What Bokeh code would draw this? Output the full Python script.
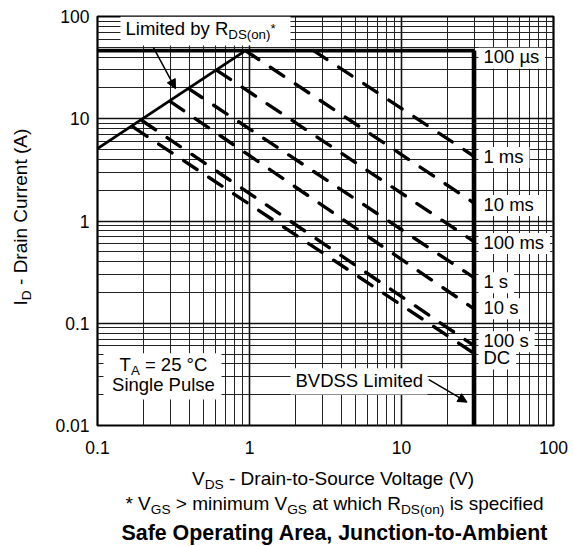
import math
from bokeh.plotting import figure
from bokeh.layouts import row, column
from bokeh.models import (Range1d, FixedTicker, CustomJSTickFormatter, Label,
                          Arrow, NormalHead, ColumnDataSource)
from bokeh.embed import file_html
from bokeh.resources import INLINE

# ---------------- data ----------------
x_ticks = [0.1, 1, 10, 100]
x_tick_labels = ["0.1", "1", "10", "100"]
y_ticks = [0.01, 0.1, 1, 10, 100]
y_tick_labels = ["0.01", "0.1", "1", "10", "100"]

rds_vds = [0.1, 0.94]          # R_DS(on) limit line
rds_id = [5.1, 46.4]
current_limit = 46.4           # A  (100 us boundary)
bvdss = 30.0                   # V

pulse_labels = ["1 ms", "10 ms", "100 ms", "1 s", "10 s", "100 s", "DC"]
pulse_v_start = [2.64, 0.94, 0.613, 0.398, 0.302, 0.197, 0.173]
pulse_i_start = [46.4, 46.4, 29.6, 19.7, 14.7, 9.56, 8.22]
pulse_i_end = [4.3, 1.5, 0.63, 0.279, 0.138, 0.0603, 0.0508]

right_labels = ["100 µs"] + pulse_labels

# ---------------- layout ----------------
FONT = "Liberation Sans"
right_label_y = [34.6, 3.70, 1.253, 0.531, 0.2204, 0.1226, 0.0582, 0.0396]
right_label_x = 34.6
PX_PER_DEC_X = 152.0
PX_PER_DEC_Y = 102.25
LEFT_W = 45
MAIN_H = 470
TOTAL_W, TOTAL_H = 573, 546
BASE_FIX = 0.36   # em; raise labels so the rendered baseline lands on the anchor

W = {' ': 278, '-': 333, '(': 333, ')': 333, '.': 278, ',': 278, '*': 389, '>': 584,
     '=': 584, '°': 400, 'µ': 556,
     'A': 667, 'B': 667, 'C': 722, 'D': 722, 'E': 667, 'G': 778, 'I': 278, 'L': 556,
     'P': 667, 'R': 722, 'S': 667, 'T': 611, 'V': 667,
     'a': 556, 'b': 556, 'c': 500, 'd': 556, 'e': 556, 'f': 278, 'g': 556, 'h': 556,
     'i': 222, 'l': 222, 'm': 833, 'n': 556, 'o': 556, 'p': 556, 'r': 333, 's': 500,
     't': 278, 'u': 556, 'w': 722, 'y': 500}


def text_width(s, size):
    return sum(W.get(c, 556) for c in s) * size / 1000.0


def label(fig, x, y, text, size, align="left", bold=False, xo=0.0, yo=0.0, angle=0.0):
    fix = BASE_FIX * size
    if angle == 0:
        yo += fix
    else:
        xo -= fix
    fig.add_layout(Label(x=x, y=y, text=text, x_offset=xo, y_offset=yo, angle=angle,
                         text_font=FONT, text_font_size=f"{size}px", text_color="black",
                         text_font_style="bold" if bold else "normal",
                         text_baseline="alphabetic", text_align=align))


def rich(fig, x, y, parts, size, align="left", angle=0.0):
    sub_size = round(size * 0.72, 1)
    sizes = [size if k == "n" else sub_size for _, k in parts]
    ws = [text_width(t, fs) for (t, _), fs in zip(parts, sizes)]
    pos = 0.0 if align == "left" else -sum(ws) / 2
    for (t, k), w, fs in zip(parts, ws, sizes):
        lead = len(t) - len(t.lstrip(" "))
        start = pos + text_width(" " * lead, fs)
        up = {"n": 0.0, "sub": -0.22 * size, "sup": 0.12 * size}[k]
        if angle == 0:
            xo, yo = start, up
        else:
            xo, yo = -up, start
        label(fig, x, y, t.strip(" "), fs, xo=xo, yo=yo, angle=angle)
        pos += w


def text_panel(w, h):
    f = figure(width=w, height=h, x_range=Range1d(0, w), y_range=Range1d(h, 0),
               x_axis_location=None, y_axis_location=None,
               min_border=0, output_backend="svg", toolbar_location=None)
    f.outline_line_color = None
    f.background_fill_color = "white"
    f.border_fill_color = "white"
    f.grid.visible = False
    return f


# ---------------- main plot ----------------
p = figure(x_axis_type="log", y_axis_type="log",
           x_range=Range1d(0.1, 100), y_range=Range1d(0.01, 100),
           frame_width=456, frame_height=409,
           min_border_left=97 - LEFT_W, min_border_right=20,
           min_border_top=16, min_border_bottom=MAIN_H - 425,
           output_backend="svg", toolbar_location=None)
p.background_fill_color = "white"
p.border_fill_color = "white"
p.outline_line_color = "black"
p.outline_line_width = 2.2

xminor = [k * 10.0 ** e for e in range(-1, 2) for k in range(2, 10)]
yminor = [k * 10.0 ** e for e in range(-2, 2) for k in range(2, 10)]
p.xaxis.ticker = FixedTicker(ticks=x_ticks, minor_ticks=xminor)
p.yaxis.ticker = FixedTicker(ticks=y_ticks, minor_ticks=yminor)
code = ("const i = tvals.findIndex(t => Math.abs(Math.log10(t) - Math.log10(tick)) < 1e-6);"
        "return i >= 0 ? tlabels[i] : '';")
p.xaxis.formatter = CustomJSTickFormatter(args=dict(tvals=x_ticks, tlabels=x_tick_labels), code=code)
p.yaxis.formatter = CustomJSTickFormatter(args=dict(tvals=y_ticks, tlabels=y_tick_labels), code=code)
for ax in (p.xaxis, p.yaxis):
    ax.axis_line_color = None
    ax.major_tick_line_color = None
    ax.minor_tick_line_color = None
    ax.major_tick_out = 0
    ax.minor_tick_out = 0
    ax.major_tick_in = 0
    ax.minor_tick_in = 0
    ax.axis_label_standoff = 0
    ax.major_label_text_font = FONT
    ax.major_label_text_font_size = "17.5px"
    ax.major_label_text_color = "black"
p.xaxis.major_label_standoff = 15
p.yaxis.major_label_standoff = 8

for g in (p.xgrid, p.ygrid):
    g.grid_line_color = "#111111"
    g.grid_line_width = 1.6
    g.minor_grid_line_color = "#222222"
    g.minor_grid_line_width = 1.0

# white boxes behind the in-plot annotations
box_l = [0.1416, 1.861, 0.1095]
box_r = [1.861, 14.83, 0.655]
box_b = [52.0, 0.0201, 0.018]
box_t = [100, 0.0362, 0.0508]
for txt, yy in zip(right_labels, right_label_y):
    wpx = text_width(txt, 18.5)
    box_l.append(right_label_x * 10 ** (-5 / PX_PER_DEC_X))
    box_r.append(right_label_x * 10 ** ((wpx + 6) / PX_PER_DEC_X))
    box_b.append(yy * 10 ** (-5 / PX_PER_DEC_Y))
    box_t.append(yy * 10 ** (16 / PX_PER_DEC_Y))
p.quad(left=box_l, right=box_r, bottom=box_b, top=box_t,
       fill_color="white", line_color=None)

# limits
p.line(rds_vds, rds_id, line_color="black", line_width=2.8)
p.line([x_ticks[0], bvdss], [current_limit, current_limit], line_color="black", line_width=3.6)
p.line([bvdss, bvdss], [current_limit, y_ticks[0]], line_color="black", line_width=4.6)

src = ColumnDataSource(dict(
    xs=[[v, bvdss] for v in pulse_v_start],
    ys=[[a, b] for a, b in zip(pulse_i_start, pulse_i_end)]))
p.multi_line("xs", "ys", source=src, line_color="black", line_width=3.4,
             line_dash="16 14", line_cap="round")

# in-plot annotations
rich(p, 0.1528, 65.1, [("Limited by R", "n"), ("DS(on)", "sub"), ("*", "sup")], 18.5)
rich(p, 0.2716, 0.0338, [("T", "n"), ("A", "sub"), (" = 25 °C", "n")], 18.5, align="center")
label(p, 0.2716, 0.0216, "Single Pulse", 18.5, align="center")
label(p, 2.007, 0.0236, "BVDSS Limited", 18.5)

p.add_layout(Arrow(end=NormalHead(size=9, fill_color="black", line_color="black"),
                   x_start=0.2335, y_start=49.7, x_end=0.326, y_end=19.7,
                   line_width=1.5, line_color="black"))
p.add_layout(Arrow(end=NormalHead(size=9, fill_color="black", line_color="black"),
                   x_start=15.14, y_start=0.0281, x_end=27.0, y_end=0.0169,
                   line_width=1.5, line_color="black"))

for txt, yy in zip(right_labels, right_label_y):
    label(p, right_label_x, yy, txt, 18.5)

# ---------------- y-axis title panel ----------------
left = text_panel(LEFT_W, MAIN_H)
rich(left, 27, 332, [("I", "n"), ("D", "sub"), (" - Drain Current (A)", "n")], 19,
     angle=math.pi / 2)

# ---------------- bottom panel: x title, footnote, caption ----------------
bottom = text_panel(TOTAL_W, TOTAL_H - MAIN_H)
rich(bottom, 333, 485 - MAIN_H, [("V", "n"), ("DS", "sub"),
                                 (" - Drain-to-Source Voltage (V)", "n")], 19, align="center")
rich(bottom, 334, 510 - MAIN_H, [("* V", "n"), ("GS", "sub"), (" > minimum V", "n"), ("GS", "sub"),
                                 (" at which R", "n"), ("DS(on)", "sub"), (" is specified", "n")],
     19, align="center")
label(bottom, 334.3, 540 - MAIN_H, "Safe Operating Area, Junction-to-Ambient", 21.4,
      align="center", bold=True)

layout = column(row(left, p, spacing=0), bottom, spacing=0)
open("out.html", "w").write(file_html(layout, INLINE))
